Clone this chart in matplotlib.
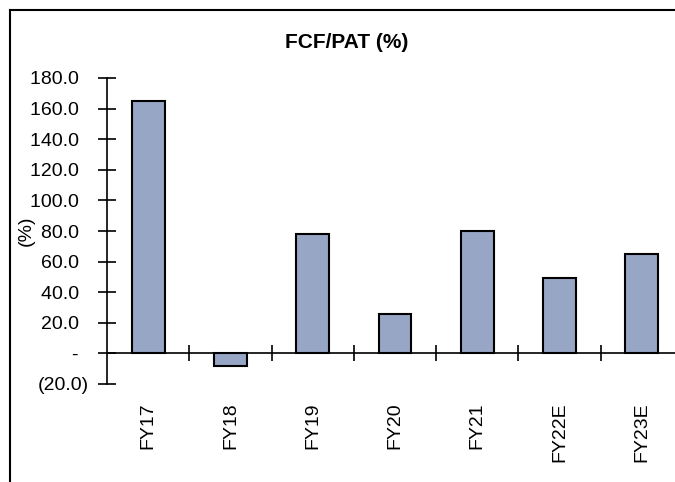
import numpy as np
import matplotlib
matplotlib.use("Agg")
import matplotlib.pyplot as plt
from matplotlib.lines import Line2D
from matplotlib.ticker import FixedLocator, FuncFormatter

# FCF / PAT by fiscal year
years = ["FY17", "FY18", "FY19", "FY20", "FY21", "FY22E", "FY23E"]
fcf_pat = [165.0, -8.3, 78.0, 25.6, 79.8, 49.3, 65.0]
y_ticks = [-20, 0, 20, 40, 60, 80, 100, 120, 140, 160, 180]

plt.rcParams.update({"font.family": "Liberation Sans", "font.size": 14})

fig = plt.figure(figsize=(6.75, 4.82), dpi=100)
# axes runs a little past the right edge of the figure
ax = fig.add_axes([107 / 675, 98 / 482, 576 / 675, 306 / 482])

x = np.arange(len(years))
ax.bar(x, fcf_pat, width=0.4, color="#97a6c4", edgecolor="black", linewidth=1.5, zorder=3)

# accounting style labels: dash for zero, brackets for negatives
def acct(v, pos):
    if abs(v) < 1e-9:
        return "-  "
    if v < 0:
        return "(%.1f)" % abs(v)
    return "%.1f\u2002" % v

ax.set_ylim(-20, 180)
ax.set_xlim(-0.5, len(years) - 0.5)
ax.yaxis.set_major_locator(FixedLocator(y_ticks))
ax.yaxis.set_major_formatter(FuncFormatter(acct))
ax.tick_params(axis="y", direction="inout", length=13, width=1.2, pad=6.5)

# category axis sits on zero, labels hang below the plot
ax.spines["bottom"].set_position(("data", 0))
ax.spines["bottom"].set_linewidth(1.2)
ax.spines["left"].set_linewidth(1.2)
ax.spines["top"].set_visible(False)
ax.spines["right"].set_visible(False)
ax.set_xticks(x)
ax.set_xticklabels(years, rotation=90)
ax.set_xticks(x[:-1] + 0.5, minor=True)
ax.tick_params(axis="x", which="major", length=0, pad=35)
ax.tick_params(axis="x", which="minor", direction="inout", length=12, width=1.2)

ax.set_ylabel("(%)", fontsize=14, labelpad=0)
ax.yaxis.set_label_coords((35 - 107) / 576, 0.5)

fig.text(347 / 675, 1 - 43 / 482, "FCF/PAT (%)", ha="center", va="center",
         fontsize=15, fontweight="bold")

# outer frame, only top and left edges fall inside the image
fig.add_artist(Line2D([10 / 675, 1.0], [1 - 10 / 482] * 2, color="black", lw=1.5,
                      transform=fig.transFigure))
fig.add_artist(Line2D([10 / 675] * 2, [0.0, 1 - 10 / 482], color="black", lw=1.5,
                      transform=fig.transFigure))

fig.savefig("out.png", dpi=100)
